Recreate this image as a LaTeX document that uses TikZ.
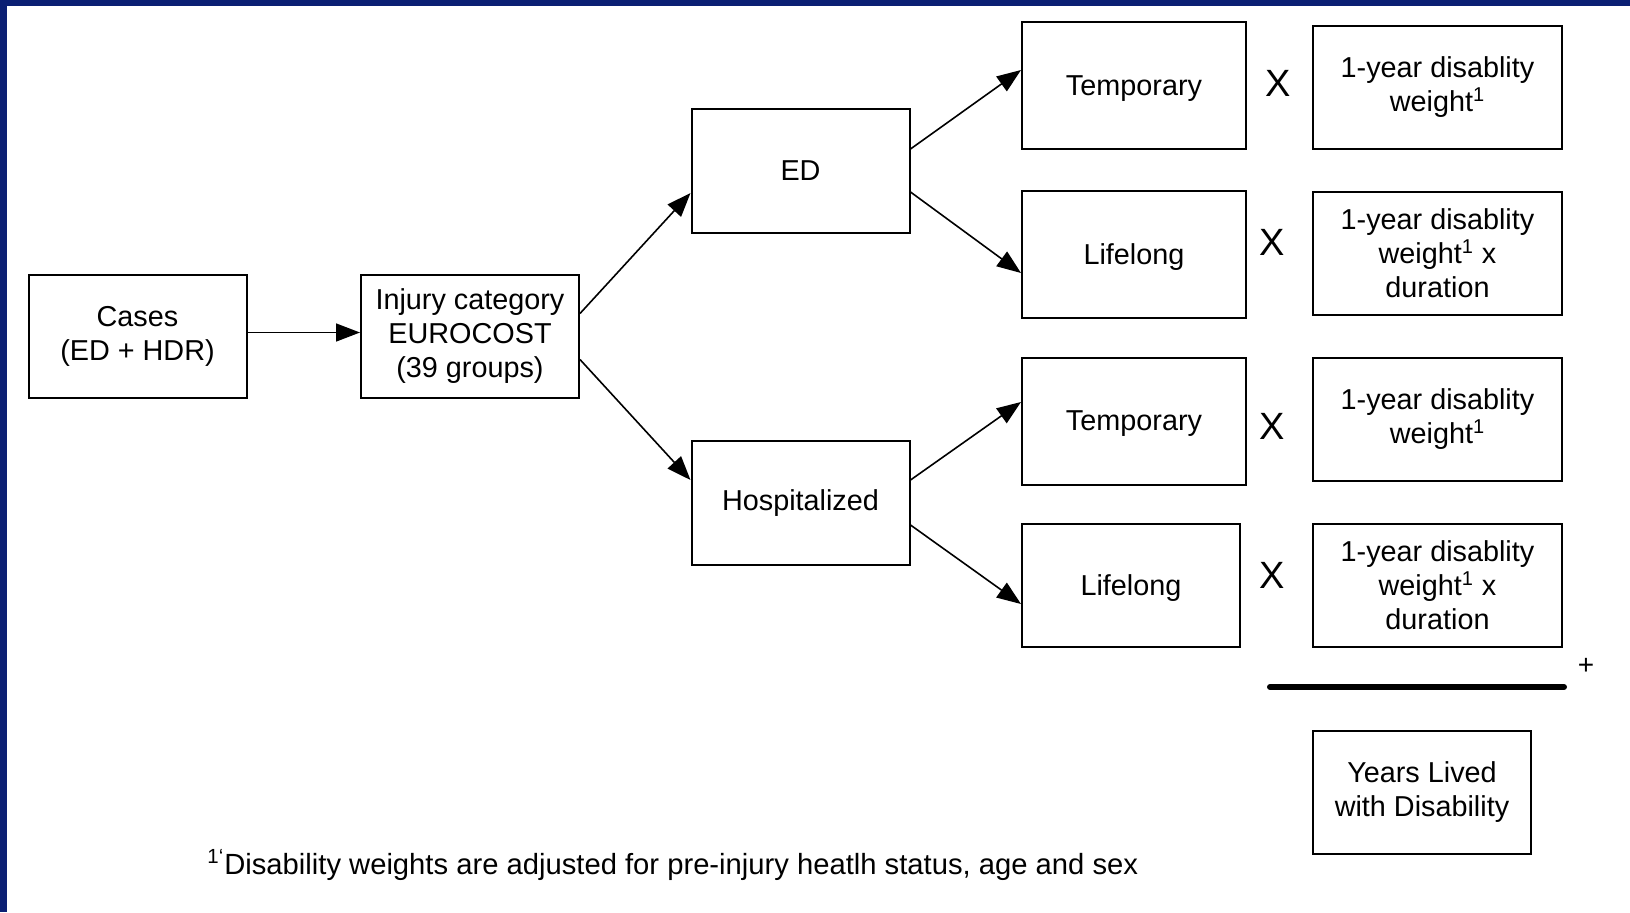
\documentclass[tikz,border=0pt]{standalone}
\usepackage{fontspec}
\setmainfont{Liberation Sans}
\usetikzlibrary{arrows.meta}
\definecolor{framenavy}{RGB}{11,31,115}
\tikzset{
%Define standard arrow tip
>={Triangle[length=12pt,width=9pt]},
%Define styles for boxes and lines
box/.style={draw, line width=1pt, align=center, inner sep=0pt,
  minimum width=109pt, minimum height=61.5pt,
  font=\fontsize{14.4}{17}\selectfont},
stage box/.style={box, minimum width=112pt, minimum height=63.5pt, text depth=0pt},
weight box/.style={box, minimum width=124.5pt, minimum height=61.5pt},
flow/.style={->, line width=0.8pt},
times sign/.style={font=\fontsize{19}{19}\selectfont},
sum line/.style={line width=3pt, line cap=round},
}

\begin{document}
\begin{tikzpicture}[x=0.5pt, y=-0.5pt]
    \useasboundingbox (0,0) rectangle (1630,912);
    %Frame of the slide
    \fill[framenavy] (0,0) rectangle (1630,6);
    \fill[framenavy] (0,0) rectangle (7,912);

    %Cases and injury category
    \node[box] (cases) at (137.5,336.5) {Cases\\(ED + HDR)};
    \node[box] (inj) at (470,336.5) {Injury category\\EUROCOST\\(39 groups)};
    %Type of treatment
    \node[box, minimum height=62pt] (ed) at (800.5,171) {ED};
    \node[box, minimum height=62pt] (hosp) at (800.5,503) {Hospitalized};
    %Temporary or lifelong
    \node[stage box] (temp1) at (1134,85.5) {Temporary};
    \node[stage box] (life1) at (1134,254.5) {Lifelong};
    \node[stage box] (temp2) at (1134,421) {Temporary};
    \node[stage box, minimum width=109pt, minimum height=61.5pt] (life2) at (1131,585.5) {Lifelong};
    %Disability weights
    \node[weight box] (wt1) at (1437.5,87.5) {1-year disablity\\weight\textsuperscript{1}};
    \node[weight box] (wt2) at (1437.5,253.5) {1-year disablity\\weight\textsuperscript{1} x\\duration};
    \node[weight box] (wt3) at (1437.5,419) {1-year disablity\\weight\textsuperscript{1}};
    \node[weight box] (wt4) at (1437.5,585.5) {1-year disablity\\weight\textsuperscript{1} x\\duration};
    \node[times sign] (times1) at (1278,83) {X};
    \node[times sign] (times2) at (1272,242) {X};
    \node[times sign] (times3) at (1272,426) {X};
    \node[times sign] (times4) at (1272,575) {X};

    %Sum of all branches
    \coordinate (suml) at (1270,687);
    \coordinate (sumr) at (1564,687);
    \draw[sum line] (suml) -- (sumr);
    \node[font=\fontsize{14}{14}\selectfont] (plus) at (1586,666) {+};
    \node[box] (yld) at (1422,792.5) {Years Lived\\with Disability};

    %Arrows
    \draw[flow] ([yshift=2pt]cases.east) -- ([yshift=2pt]inj.west);
    \draw[flow] ([yshift=11.5pt]inj.east) -- ([yshift=-11pt]ed.west);
    \draw[flow] ([yshift=-11.5pt]inj.east) -- ([yshift=11.5pt]hosp.west);
    \draw[flow] ([yshift=11pt]ed.east) -- ([yshift=7.75pt]temp1.west);
    \draw[flow] ([yshift=-10.5pt]ed.east) -- ([yshift=-9.25pt]life1.west);
    \draw[flow] ([yshift=11.5pt]hosp.east) -- ([yshift=9.5pt]temp2.west);
    \draw[flow] ([yshift=-11pt]hosp.east) -- ([yshift=-9.25pt]life2.west);

    %Footnote
    \node[anchor=west, inner sep=0pt, font=\fontsize{14.6}{17}\selectfont] (note) at (207,865)
      {\textsuperscript{1`}Disability weights are adjusted for pre-injury heatlh status, age and sex};
\end{tikzpicture}
\end{document}
